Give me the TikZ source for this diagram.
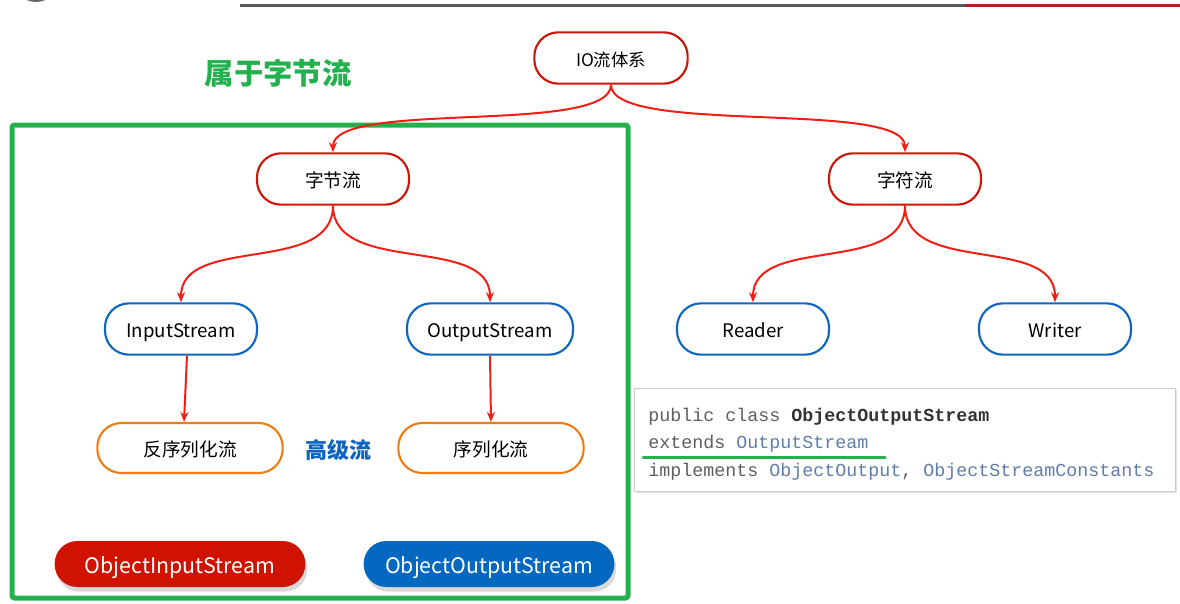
\documentclass[tikz,border=0pt]{standalone}
\usepackage{fontspec}
\setmainfont{Noto Sans CJK SC}
\newfontfamily\codefont{Liberation Mono}
\usetikzlibrary{arrows.meta,shadows}
\definecolor{nred}{RGB}{205,22,10}
\definecolor{nblue}{RGB}{16,102,190}
\definecolor{norange}{RGB}{240,125,20}
\definecolor{larrow}{RGB}{240,30,20}
\definecolor{fillred}{RGB}{208,18,0}
\definecolor{fillblue}{RGB}{4,104,192}
\definecolor{gframe}{RGB}{34,177,76}
\definecolor{codegray}{RGB}{95,95,95}
\definecolor{codeblue}{RGB}{95,125,170}
\definecolor{hblue}{RGB}{12,100,190}
\definecolor{headred}{RGB}{176,32,32}
\begin{document}
\begin{tikzpicture}[x=0.75pt,y=-0.75pt,
  box/.style={rounded corners=18pt, line width=1.6pt, minimum width=114pt, minimum height=38.5pt,
    fill=white, inner sep=0pt, text height=12pt, text depth=0pt, font=\fontsize{14}{16}\selectfont},
  redbox/.style={box, draw=nred},
  bluebox/.style={box, draw=nblue},
  orangebox/.style={box, draw=norange, minimum width=139pt, minimum height=37.5pt},
  filledbox/.style={rounded corners=17pt, minimum width=188pt, minimum height=34.5pt, inner sep=0pt,
    text height=14pt, text depth=0pt,
    text=white, font=\fontsize{16}{18}\selectfont,
    drop shadow={shadow xshift=1.5pt, shadow yshift=-3.5pt, fill=black!15, opacity=1}},
  link/.style={draw=larrow, line width=1.5pt, -{Stealth[length=7.5pt,width=6pt]}},
  codeline/.style={anchor=base west, inner sep=0pt, font=\codefont\fontsize{13.75}{16}\selectfont, text=codegray},
]
\useasboundingbox (0,0) rectangle (1180,603);
\fill[white] (0,0) rectangle (1180,603);

% header
\draw[line width=6pt, black!60] (36,-20) circle [radius=18];
\draw[line width=2.25pt, black!65] (240,5) -- (965,5);
\draw[line width=2.25pt, headred] (965,5) -- (1180,5);

% green frame
\draw[gframe, line width=3.75pt, rounded corners=2pt] (12,125) rectangle (628,598);

% labels
\node[text=gframe, font=\fontsize{22}{26}\selectfont\bfseries] (lbl) at (278,73) {属于字节流};
\node[text=hblue, font=\fontsize{16.5}{20}\selectfont\bfseries] (adv) at (338,450) {高级流};

% nodes
\node[redbox, minimum width=115pt, font=\fontsize{13}{15}\selectfont] (io) at (611,58) {IO流体系};
\node[redbox] (byte) at (333,179) {字节流};
\node[redbox] (char) at (905,179) {字符流};
\node[bluebox] (in) at (181,329) {InputStream};
\node[bluebox, minimum width=124.5pt] (out) at (490,329) {OutputStream};
\node[bluebox] (reader) at (753,329) {Reader};
\node[bluebox] (writer) at (1055,329) {Writer};
\node[orangebox] (fan) at (190,448) {反序列化流};
\node[orangebox] (xu) at (491,448) {序列化流};
\node[filledbox, fill=fillred] (ois) at (180,564) {ObjectInputStream};
\node[filledbox, fill=fillblue] (oos) at (489,564) {ObjectOutputStream};

% connectors
\draw[link] (io.south) .. controls +(0,51) and +(0,-53) .. (byte.north);
\draw[link] (io.south) .. controls +(0,51) and +(0,-53) .. (char.north);
\draw[link] (byte.south) .. controls +(0,70) and +(0,-68) .. (in.north);
\draw[link] (byte.south) .. controls +(0,70) and +(0,-68) .. (out.north);
\draw[link] (char.south) .. controls +(0,70) and +(0,-68) .. (reader.north);
\draw[link] (char.south) .. controls +(0,70) and +(0,-68) .. (writer.north);
\draw[link] ([xshift=4.5pt]in.south) -- ([xshift=-4.5pt]fan.north);
\draw[link] (out.south) -- (xu.north);

% code box
\node[draw=black!20, line width=0.75pt, fill=white, anchor=north west, minimum width=405.75pt,
  minimum height=77.25pt, inner sep=0pt,
  drop shadow={shadow xshift=1pt, shadow yshift=-1pt, fill=black!10, opacity=1}] (code) at (634,388) {};
\node[codeline] (c1) at (648,421) {public class \textbf{\textcolor{black!80}{ObjectOutputStream}}};
\node[codeline] (c2) at (648,448) {extends \textcolor{codeblue}{OutputStream}};
\node[codeline] (c3) at (648,476) {implements \textcolor{codeblue}{ObjectOutput}, \textcolor{codeblue}{ObjectStreamConstants}};
\coordinate (ul1) at (643,457);
\coordinate (ul2) at (885,457);
\draw[gframe, line width=2.25pt, line cap=round] (ul1) -- (ul2);
\end{tikzpicture}
\end{document}
